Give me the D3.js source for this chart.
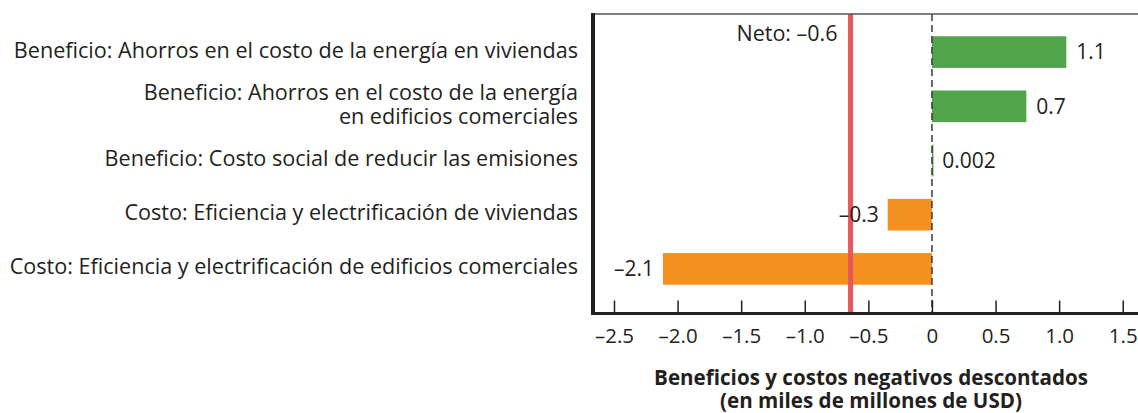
<!DOCTYPE html>
<html>
<head>
<meta charset="utf-8">
<script src="https://cdn.jsdelivr.net/npm/d3@7"></script>
<style>
  body { margin: 0; background: #fff; }
  svg text { font-family: "Open Sans", "Noto Sans", sans-serif; fill: #231f20; }
</style>
</head>
<body>
<script>
var width = 1138;
var height = 413;

// datos
var categories = [
    ["Beneficio: Ahorros en el costo de la energía en viviendas"],
    ["Beneficio: Ahorros en el costo de la energía", "en edificios comerciales"],
    ["Beneficio: Costo social de reducir las emisiones"],
    ["Costo: Eficiencia y electrificación de viviendas"],
    ["Costo: Eficiencia y electrificación de edificios comerciales"]
];
var values = [1.056, 0.742, 0.002, -0.348, -2.115];
var valueLabels = ["1.1", "0.7", "0.002", "\u20130.3", "\u20132.1"];
var netValue = -0.64;
var netLabel = "Neto: \u20130.6";
var tickValues = [-2.5, -2.0, -1.5, -1.0, -0.5, 0, 0.5, 1.0, 1.5];
var tickLabels = ["\u20132.5", "\u20132.0", "\u20131.5", "\u20131.0", "\u20130.5", "0", "0.5", "1.0", "1.5"];
var axisTitle = ["Beneficios y costos negativos descontados", "(en miles de millones de USD)"];

var frame = { left: 593, right: 1138, top: 14, bottom: 313.5 };

var svg = d3.select("body")
    .append("svg")
    .attr("width", width)
    .attr("height", height);

var x = d3.scaleLinear()
    .domain([-2.665, 1.62])
    .range([frame.left, frame.right]);

var y = d3.scaleBand()
    .domain(d3.range(values.length))
    .range([25, 296])
    .paddingInner(0.416)
    .paddingOuter(0.208);

// barras
svg.selectAll(".bar")
    .data(values)
    .enter()
    .append("rect")
    .attr("class", "bar")
    .attr("x", function (d) { return x(Math.min(0, d)); })
    .attr("y", function (d, i) { return y(i); })
    .attr("width", function (d) { return Math.max(1.5, Math.abs(x(d) - x(0))); })
    .attr("height", y.bandwidth())
    .attr("fill", function (d) { return d >= 0 ? "#52a44b" : "#f39020"; });

// linea de cero
svg.append("line")
    .attr("x1", x(0)).attr("x2", x(0))
    .attr("y1", frame.top).attr("y2", frame.bottom)
    .attr("stroke", "#3a3a3a")
    .attr("stroke-width", 1.5)
    .attr("stroke-dasharray", "7,4");

// linea neta
svg.append("line")
    .attr("x1", x(netValue)).attr("x2", x(netValue))
    .attr("y1", frame.top).attr("y2", frame.bottom)
    .attr("stroke", "#e8575a")
    .attr("stroke-width", 5);

svg.append("text")
    .attr("x", x(netValue) - 13)
    .attr("y", 33)
    .attr("dy", "0.35em")
    .attr("text-anchor", "end")
    .style("font-size", "21.5px")
    .text(netLabel);

// etiquetas de valor
svg.selectAll(".val")
    .data(values)
    .enter()
    .append("text")
    .attr("class", "val")
    .attr("x", function (d) { return d >= 0 ? x(d) + 10 : x(d) - 9; })
    .attr("y", function (d, i) { return y(i) + y.bandwidth() / 2; })
    .attr("dy", "0.35em")
    .attr("text-anchor", function (d) { return d >= 0 ? "start" : "end"; })
    .style("font-size", "21px")
    .text(function (d, i) { return valueLabels[i]; });

// etiquetas de categorias
var cats = svg.selectAll(".cat")
    .data(categories)
    .enter()
    .append("text")
    .attr("class", "cat")
    .attr("text-anchor", "end")
    .style("font-size", "21.6px")
    .attr("transform", function (d, i) {
        return "translate(578," + (y(i) + y.bandwidth() / 2 - 2) + ")";
    });

cats.selectAll("tspan")
    .data(function (d) { return d; })
    .enter()
    .append("tspan")
    .attr("x", 0)
    .attr("y", function (t, j, arr) { return (j - (arr.length - 1) / 2) * 23.5; })
    .attr("dy", "0.35em")
    .text(function (t) { return t; });

// eje x
var xAxis = d3.axisBottom(x)
    .tickValues(tickValues)
    .tickSizeInner(-13)
    .tickSizeOuter(0)
    .tickPadding(15)
    .tickFormat(function (d, i) { return tickLabels[i]; });

var gx = svg.append("g")
    .attr("transform", "translate(0," + frame.bottom + ")")
    .call(xAxis);
gx.select(".domain").remove();
gx.selectAll(".tick line").attr("stroke", "#231f20").attr("stroke-width", 1.5);
gx.selectAll(".tick text")
    .style("font-size", "20.5px")
    .attr("font-family", null)
    .attr("fill", "#231f20");

// marco
svg.append("line")
    .attr("x1", frame.left).attr("x2", frame.right)
    .attr("y1", frame.top).attr("y2", frame.top)
    .attr("stroke", "#555")
    .attr("stroke-width", 1.5);

svg.append("line")
    .attr("x1", frame.left - 2).attr("x2", frame.right)
    .attr("y1", frame.bottom).attr("y2", frame.bottom)
    .attr("stroke", "#231f20")
    .attr("stroke-width", 3);

svg.append("line")
    .attr("x1", frame.left).attr("x2", frame.left)
    .attr("y1", frame.top - 1).attr("y2", frame.bottom + 1.5)
    .attr("stroke", "#231f20")
    .attr("stroke-width", 4);

// titulo del eje
svg.append("text")
    .attr("text-anchor", "middle")
    .style("font-size", "20.6px")
    .style("font-weight", "bold")
    .selectAll("tspan")
    .data(axisTitle)
    .enter()
    .append("tspan")
    .attr("x", 871)
    .attr("y", function (t, j) { return 378 + j * 23; })
    .attr("dy", "0.35em")
    .text(function (t) { return t; });
</script>
</body>
</html>
